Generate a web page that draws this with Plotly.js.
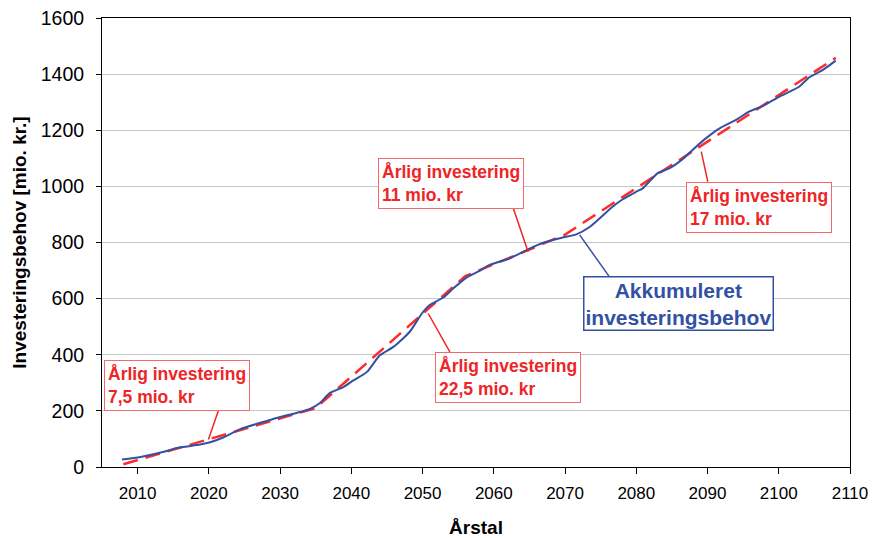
<!DOCTYPE html>
<html>
<head>
<meta charset="utf-8">
<script src="https://cdn.plot.ly/plotly-3.0.1.min.js"></script>
<style>html,body{margin:0;padding:0;background:#fff;}#chart{width:879px;height:538px;}</style>
</head>
<body>
<div id="chart"></div>
<script>
// Accumulated investment need (blue)
const blueYears = [2007.8, 2010.4, 2014.1, 2015.5, 2018.8, 2020.2, 2022.0, 2024.4, 2028.1, 2030.0, 2032.8, 2034.2, 2035.6, 2037.0, 2038.9, 2040.3, 2042.2, 2044.0, 2045.9, 2048.2, 2049.9, 2051.0, 2052.9, 2054.3, 2056.2, 2058.0, 2059.4, 2062.2, 2064.6, 2066.9, 2069.7, 2071.5, 2073.5, 2076.7, 2078.1, 2080.0, 2080.9, 2083.0, 2084.7, 2086.5, 2087.9, 2089.8, 2091.7, 2094.0, 2095.9, 2097.8, 2100.1, 2102.9, 2104.3, 2106.2, 2108.0];
const blueValues = [27, 36, 57, 68, 80, 88, 105, 135, 164, 178, 196, 207, 228, 264, 285, 309, 339, 398, 428, 482, 547, 577, 604, 636, 676, 699, 720, 743, 773, 799, 818, 828, 856, 928, 954, 981, 993, 1047, 1065, 1097, 1130, 1172, 1207, 1237, 1267, 1287, 1320, 1356, 1389, 1415, 1448];

// Piecewise annual investment trend (red dashed)
const redYears = [2008, 2035, 2056, 2070, 2108];
const redValues = [10, 210, 680, 828, 1458];

const xTicks = [2010, 2020, 2030, 2040, 2050, 2060, 2070, 2080, 2090, 2100, 2110];
const yTicks = [0, 200, 400, 600, 800, 1000, 1200, 1400, 1600];

const redLabels = ["Årlig investering<br>7,5 mio. kr", "Årlig investering<br>11 mio. kr", "Årlig investering<br>22,5 mio. kr", "Årlig investering<br>17 mio. kr"];
const blueLabel = "Akkumuleret<br>investeringsbehov";

const FONT = "Liberation Sans, Arial, Helvetica, sans-serif";
const RED = "#ee2526";
const BLUE = "#3351a3";

const traces = [
  {x: redYears, y: redValues, mode: "lines", type: "scatter",
   line: {color: "#ff2a2a", width: 2.5, dash: "15px,8px"}, hoverinfo: "skip"},
  {x: blueYears, y: blueValues, mode: "lines", type: "scatter",
   line: {color: BLUE, width: 2, shape: "spline", smoothing: 0.6}, hoverinfo: "skip"}
];

function redBox(text, x, y) {
  return {text: text, x: x, y: y, xref: "x", yref: "y", xanchor: "left", yanchor: "top",
    showarrow: false, align: "left", bgcolor: "#fff", bordercolor: "#f26a6a", borderwidth: 1, borderpad: 3,
    font: {family: FONT, size: 17.5, color: RED, weight: "bold"}};
}
function leader(x0, y0, x1, y1, color) {
  return {type: "line", xref: "x", yref: "y", x0: x0, y0: y0, x1: x1, y1: y1,
    line: {color: color, width: 1.5}, layer: "above"};
}

const layout = {
  width: 879, height: 538,
  margin: {l: 102, r: 29, t: 18, b: 71},
  paper_bgcolor: "#fff", plot_bgcolor: "#fff",
  showlegend: false,
  font: {family: FONT, color: "#000"},
  xaxis: {
    range: [2005, 2110], tickvals: xTicks, showgrid: false, zeroline: false,
    showline: true, linecolor: "#000", linewidth: 1, mirror: true,
    ticks: "outside", ticklen: 6, tickcolor: "#000", ticklabelstandoff: 5,
    tickfont: {family: FONT, size: 17, color: "#000"},
    title: {text: "Årstal", font: {family: FONT, size: 19, color: "#000", weight: "bold"}, standoff: 19}
  },
  yaxis: {
    range: [0, 1600], tickvals: yTicks, showgrid: true, gridcolor: "#c6c6c6", gridwidth: 1, zeroline: false,
    showline: true, linecolor: "#000", linewidth: 1, mirror: true,
    ticks: "outside", ticklen: 5, tickcolor: "#000", ticklabelstandoff: 8,
    tickfont: {family: FONT, size: 19.5, color: "#000"},
    title: {text: "Investeringsbehov [mio. kr.]", font: {family: FONT, size: 19, color: "#000", weight: "bold"}, standoff: 9}
  },
  annotations: [
    redBox(redLabels[0], 2005.32, 383),
    redBox(redLabels[1], 2043.78, 1100),
    redBox(redLabels[2], 2051.73, 410),
    redBox(redLabels[3], 2087.01, 1015),
    {text: blueLabel, x: 2072.52, y: 680, xref: "x", yref: "y", xanchor: "left", yanchor: "top",
     showarrow: false, align: "center", bgcolor: "#fff", bordercolor: BLUE, borderwidth: 1.5, borderpad: 1,
     font: {family: FONT, size: 21, color: BLUE, weight: "bold"}}
  ],
  shapes: [
    leader(2021.35, 202, 2019.94, 98, RED),
    leader(2062.70, 925, 2064.81, 767, RED),
    leader(2053.83, 410, 2050.79, 547, RED),
    leader(2090.04, 1017, 2089.12, 1124, RED),
    leader(2076.16, 680, 2072.05, 827, BLUE)
  ]
};

Plotly.newPlot("chart", traces, layout, {staticPlot: true, displayModeBar: false});
</script>
</body>
</html>
